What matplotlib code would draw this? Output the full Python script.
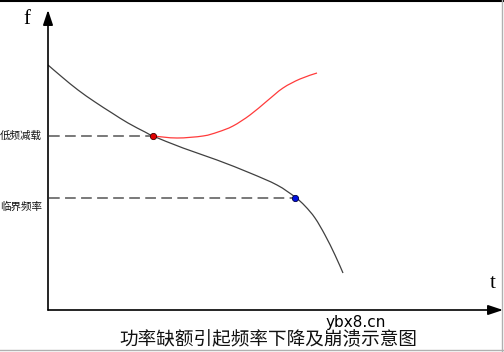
import matplotlib.pyplot as plt
from matplotlib.lines import Line2D
from matplotlib.path import Path
from matplotlib.patches import PathPatch

plt.rcParams['font.family'] = ['Noto Sans CJK SC', 'DejaVu Sans']

# main frequency curve (t, f)
black_t = [0, 14, 30, 47, 64, 80, 97, 105, 135, 169, 202, 229, 247, 257, 267, 277, 287, 295]
black_f = [245, 233, 220, 208, 197, 187, 178, 174, 162, 150, 137, 125, 113, 104, 92, 75, 55, 37]

# recovery curve after load shedding
red_t = [105, 129, 155, 170, 185, 202, 219, 235, 252, 269]
red_f = [174, 172, 174, 178, 184, 195, 209, 222, 231, 237]

shed_pt = (105, 174)
crit_pt = (247, 112)
level_labels = ['低频减载', '临界频率']
title = '功率缺额引起频率下降及崩溃示意图'


def smooth_path(xs, ys):
    # catmull-rom -> cubic bezier segments through the given points
    pts = list(zip(xs, ys))
    verts = [pts[0]]
    codes = [Path.MOVETO]
    n = len(pts)
    for i in range(n - 1):
        p0 = pts[max(i - 1, 0)]
        p1 = pts[i]
        p2 = pts[i + 1]
        p3 = pts[min(i + 2, n - 1)]
        c1 = (p1[0] + (p2[0] - p0[0]) / 6, p1[1] + (p2[1] - p0[1]) / 6)
        c2 = (p2[0] - (p3[0] - p1[0]) / 6, p2[1] - (p3[1] - p1[1]) / 6)
        verts += [c1, c2, p2]
        codes += [Path.CURVE4] * 3
    return Path(verts, codes)


fig = plt.figure(figsize=(5.04, 3.52), dpi=100)
ax = fig.add_axes([48/504, 42/352, 456/504, 310/352])
ax.set_xlim(0, 456)
ax.set_ylim(0, 310)
ax.axis('off')

# axes with arrows
ax.annotate('', xy=(0, 300), xytext=(0, 0),
            arrowprops=dict(arrowstyle='-|>,head_length=0.9,head_width=0.3', color='black', lw=1.2, shrinkA=0, shrinkB=0))
ax.annotate('', xy=(455, 0), xytext=(0, 0),
            arrowprops=dict(arrowstyle='-|>,head_length=0.9,head_width=0.3', color='black', lw=1.2, shrinkA=0, shrinkB=0))

ax.add_patch(PathPatch(smooth_path(black_t, black_f), fc='none', ec='#404040', lw=0.9))
ax.add_patch(PathPatch(smooth_path(red_t, red_f), fc='none', ec='#ff3b3b', lw=0.9))

for pt in [shed_pt, crit_pt]:
    ax.plot([1, pt[0]], [pt[1], pt[1]], color='#555555', lw=1.1, dashes=(7, 3.5))
ax.text(-6, shed_pt[1], level_labels[0], ha='right', va='center', fontsize=7.6, color='#111111')
ax.text(-6, crit_pt[1] - 9, level_labels[1], ha='right', va='center', fontsize=7.6, color='#111111')

ax.plot(*shed_pt, 'o', ms=4.5, mfc='#e00000', mec='#400000', mew=0.6, zorder=5)
ax.plot(*crit_pt, 'o', ms=4.5, mfc='#0010e0', mec='#000040', mew=0.6, zorder=5)

ax.text(-21, 290, 'f', family='Liberation Serif', fontsize=15, ha='center', va='center', clip_on=False)
ax.text(445, 27, 't', family='Liberation Serif', fontsize=15, ha='center', va='center', clip_on=False)

fig.text(268/504, 1 - 340/352, title, ha='center', va='center', fontsize=13.4, color='#111111')
fig.text(356/504, 1 - 322/352, 'ybx8.cn', ha='center', va='center', fontsize=11, family='DejaVu Sans', color='black')

# picture borders
fig.add_artist(Line2D([0, 1], [0.998, 0.998], color='black', lw=1.5, transform=fig.transFigure))
fig.add_artist(Line2D([502/504, 502/504], [0, 1], color='#b0b0b0', lw=1, transform=fig.transFigure))
fig.add_artist(Line2D([0, 1], [2/352, 2/352], color='#b0b0b0', lw=1, transform=fig.transFigure))

fig.savefig('out.png', dpi=100)
